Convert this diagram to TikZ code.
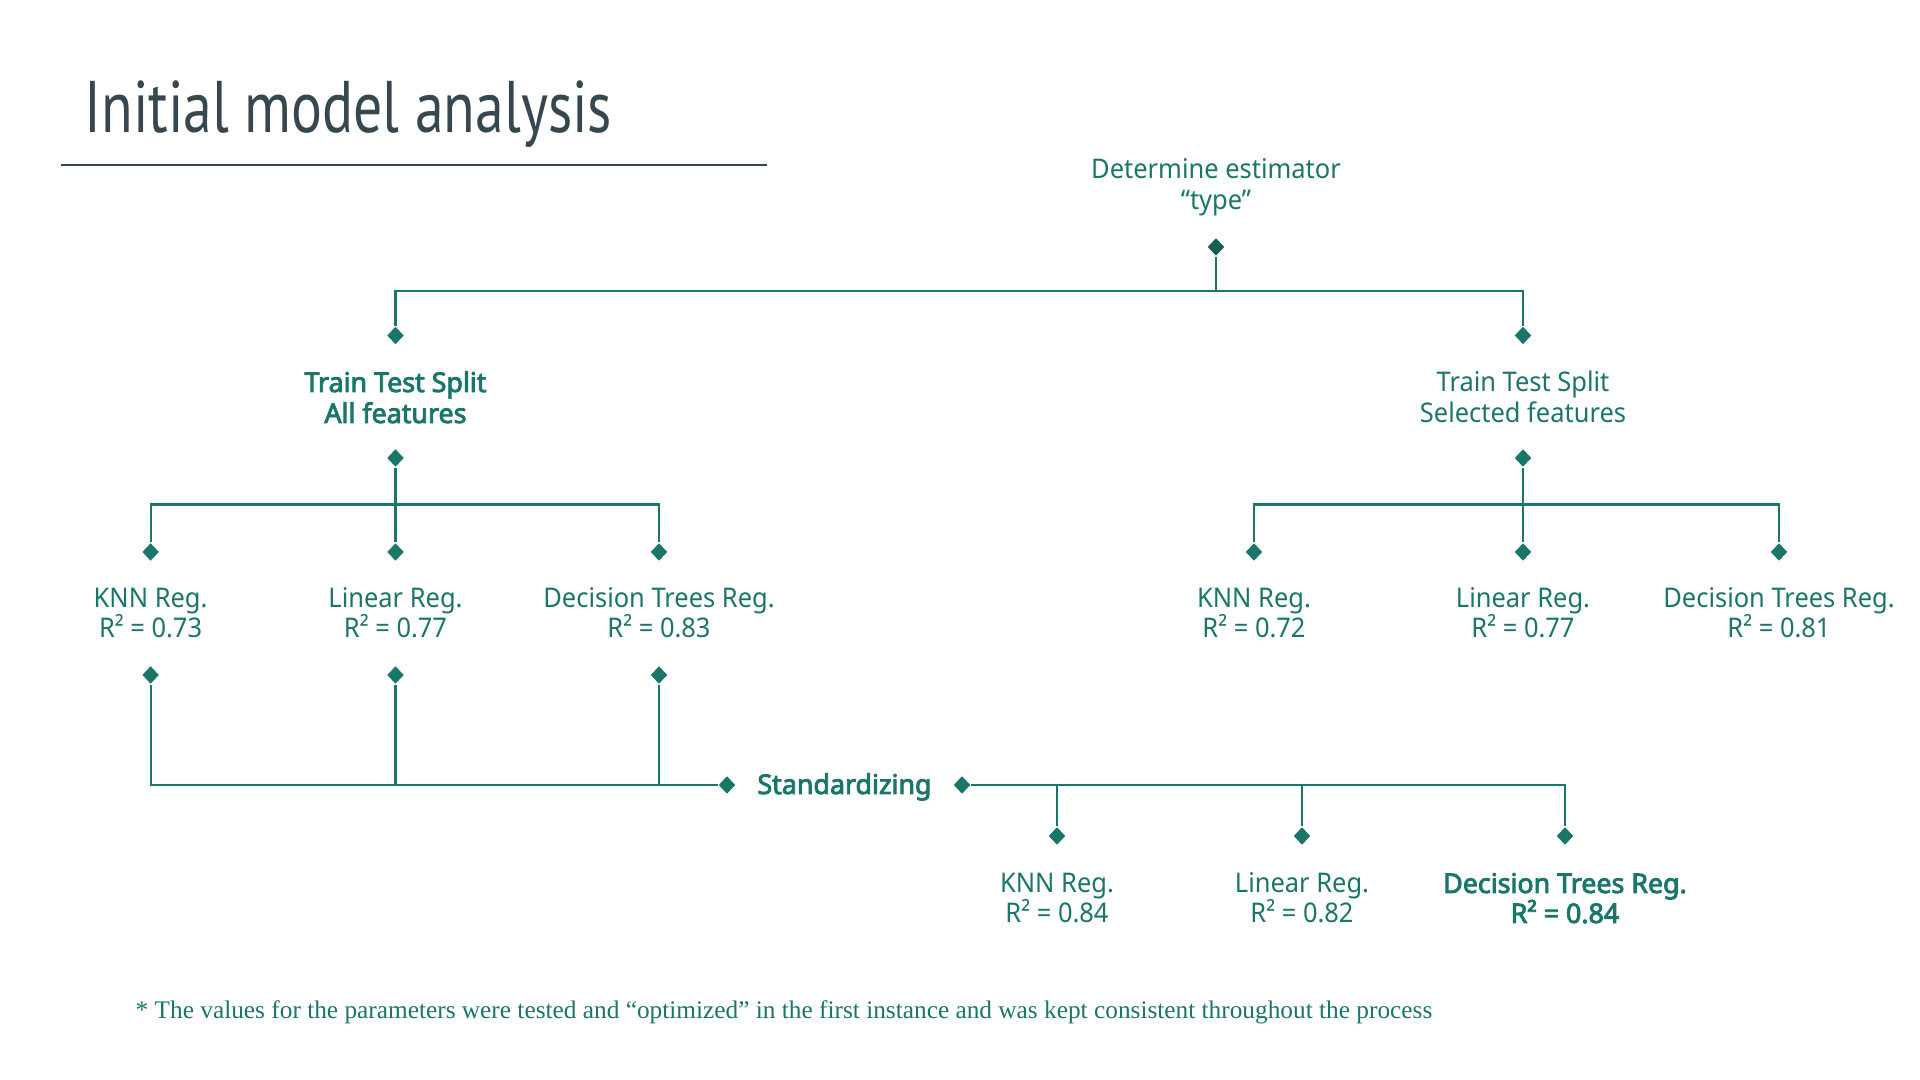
\documentclass[tikz,border=0pt]{standalone}
\usepackage{fontspec}
\setmainfont{Noto Sans}[FakeStretch=0.94]
\newfontfamily\boldfont{Noto Sans}[FakeStretch=0.99, FakeBold=3.2]
\newfontfamily\titlefont{PT Sans}[FakeStretch=0.79]
\newfontfamily\notefont{Liberation Serif}
\usetikzlibrary{shapes.geometric}
\definecolor{tealc}{RGB}{27,118,106}
\definecolor{tealdark}{RGB}{22,94,84}
\definecolor{slatec}{RGB}{55,71,79}
\tikzset{
  dia/.style={diamond, fill=tealc, draw=none, inner sep=0pt, minimum width=0.17cm, minimum height=0.18cm},
  conn/.style={draw=tealc, line width=0.6pt},
  lbl/.style={text=tealc, inner sep=0pt, anchor=base, font=\fontsize{7.7}{9}\selectfont},
  lblb/.style={lbl, font=\fontsize{7.7}{9}\selectfont\boldfont},
}
\begin{document}
\begin{tikzpicture}[x=0.01cm, y=-0.01cm]
\useasboundingbox[fill=white] (0,0) rectangle (1920,1080);

% title
\node[anchor=base west, inner sep=0pt, text=slatec, font=\fontsize{20.8}{24}\selectfont\titlefont] (title) at (84,133) {Initial model analysis};
\coordinate (rule1) at (61,165);
\coordinate (rule2) at (767,165);
\draw[slatec, line width=0.5pt] (rule1) -- (rule2);

% root
\node[lbl] (root1) at (1216,179) {Determine estimator};
\node[lbl] (root2) at (1216,210) {“type”};
\node[dia, fill=tealdark] (d0) at (1216,247) {};
\coordinate (h0) at (1216,291);

% level 1
\node[dia] (dA1) at (395.5,335.5) {};
\node[dia] (dB1) at (1523,335.5) {};
\node[lblb] (tA1) at (395.5,392) {Train Test Split};
\node[lblb] (tA2) at (395.5,423) {All features};
\node[lbl] (tB1) at (1523,392) {Train Test Split};
\node[lbl] (tB2) at (1523,423) {Selected features};
\node[dia] (dA2) at (395.5,458) {};
\node[dia] (dB2) at (1523,458) {};
\coordinate (hA) at (395.5,504.5);
\coordinate (hB) at (1523,504.5);

% level 2, group A
\node[dia] (kA) at (150.6,552) {};
\node[dia] (lA) at (395.5,552) {};
\node[dia] (tA) at (659,552) {};
\node[lbl] (kAn) at (150.6,608) {KNN Reg.};
\node[lbl] (kAr) at (150.6,638) {R² = 0.73};
\node[lbl] (lAn) at (395.5,608) {Linear Reg.};
\node[lbl] (lAr) at (395.5,638) {R² = 0.77};
\node[lbl] (tAn) at (659,608) {Decision Trees Reg.};
\node[lbl] (tAr) at (659,638) {R² = 0.83};
\node[dia] (kA2) at (150.6,675) {};
\node[dia] (lA2) at (395.5,675) {};
\node[dia] (tA2) at (659,675) {};

% level 2, group B
\node[dia] (kB) at (1254,552) {};
\node[dia] (lB) at (1523,552) {};
\node[dia] (tB) at (1779,552) {};
\node[lbl] (kBn) at (1254,608) {KNN Reg.};
\node[lbl] (kBr) at (1254,638) {R² = 0.72};
\node[lbl] (lBn) at (1523,608) {Linear Reg.};
\node[lbl] (lBr) at (1523,638) {R² = 0.77};
\node[lbl] (tBn) at (1779,608) {Decision Trees Reg.};
\node[lbl] (tBr) at (1779,638) {R² = 0.81};

% standardizing
\node[dia] (sL) at (727,785) {};
\node[lblb] (std) at (844.5,794) {Standardizing};
\node[dia] (sR) at (962,785) {};

% group C
\node[dia] (kC) at (1057,836) {};
\node[dia] (lC) at (1302,836) {};
\node[dia] (tC) at (1565,836) {};
\node[lbl] (kCn) at (1057,893) {KNN Reg.};
\node[lbl] (kCr) at (1057,923) {R² = 0.84};
\node[lbl] (lCn) at (1302,893) {Linear Reg.};
\node[lbl] (lCr) at (1302,923) {R² = 0.82};
\node[lblb] (tCn) at (1565,893) {Decision Trees Reg.};
\node[lblb] (tCr) at (1565,923) {R² = 0.84};

% connectors
\draw[conn] (d0.south) -- (h0);
\draw[conn] (dA1.north) |- (h0) -| (dB1.north);
\draw[conn] (dA2.south) -- (lA.north);
\draw[conn] (kA.north) |- (hA) -| (tA.north);
\draw[conn] (dB2.south) -- (lB.north);
\draw[conn] (kB.north) |- (hB) -| (tB.north);
\draw[conn] (kA2.south) |- (sL.west);
\draw[conn] (lA2.south) |- (sL.west);
\draw[conn] (tA2.south) |- (sL.west);
\draw[conn] (sR.east) -| (tC.north);
\draw[conn] (kC.north) |- (sR.east);
\draw[conn] (lC.north) |- (sR.east);

% footnote
\node[anchor=base west, inner sep=0pt, text=tealc, font=\fontsize{7.2}{8.5}\selectfont\notefont] (note) at (135,1019) {* The values for the parameters were tested and “optimized” in the first instance and was kept consistent throughout the process};
\end{tikzpicture}
\end{document}
